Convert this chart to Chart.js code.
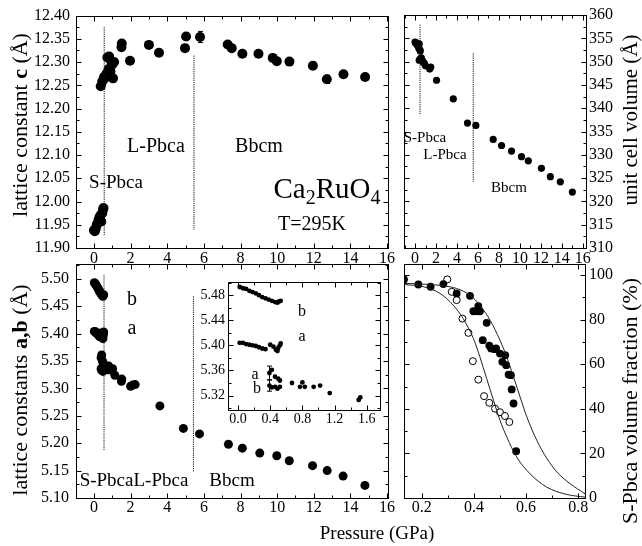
<!DOCTYPE html>
<html>
<head>
<meta charset="utf-8">
<script src="https://cdn.jsdelivr.net/npm/chart.js@4.4.1/dist/chart.umd.min.js"></script>
<style>
  html, body { margin: 0; padding: 0; background: #fff; }
  #wrap { position: relative; width: 642px; height: 546px; }
  #wrap canvas { position: absolute; left: 0; top: 0; }
</style>
</head>
<body>
<div id="wrap">
  <canvas id="cTL" width="642" height="546"></canvas>
  <canvas id="cTR" width="642" height="546"></canvas>
  <canvas id="cBL" width="642" height="546"></canvas>
  <canvas id="cBR" width="642" height="546"></canvas>
  <canvas id="cIn" width="642" height="546"></canvas>
</div>
<script>
const SERIF = '"Liberation Serif", "DejaVu Serif", serif';
const W = 642, H = 546;

// ---- tick labels ----
const pTicks = [0, 2, 4, 6, 8, 10, 12, 14, 16];
const cTicks = [11.90, 11.95, 12.00, 12.05, 12.10, 12.15, 12.20, 12.25, 12.30, 12.35, 12.40];
const vTicks = [310, 315, 320, 325, 330, 335, 340, 345, 350, 355, 360];
const abTicks = [5.10, 5.15, 5.20, 5.25, 5.30, 5.35, 5.40, 5.45, 5.50];
const insetPTicks = [0.0, 0.4, 0.8, 1.2, 1.6];
const insetTicks = [5.32, 5.36, 5.40, 5.44, 5.48];
const fracPTicks = [0.2, 0.4, 0.6, 0.8];
const fracTicks = [0, 20, 40, 60, 80, 100];

// ---- lattice constant c (top left) ----
const pcLow = [0.00, 0.05, 0.10, 0.15, 0.20, 0.25, 0.30, 0.35, 0.40, 0.45, 0.50, 0.52];
const cLow = [11.938, 11.936, 11.942, 11.950, 11.953, 11.960, 11.966, 11.970, 11.957, 11.975, 11.983, 11.986];
const pcHigh = [0.37, 0.45, 0.51, 0.55, 0.60, 0.66, 0.70, 0.73, 0.80, 0.83, 0.90, 0.93, 1.00, 1.04, 1.10, 1.50, 1.52, 1.97, 3.00, 3.55,
                4.97, 5.03, 5.79, 7.30, 7.52, 8.10, 8.98, 9.76, 9.98, 10.67, 11.95, 12.71, 13.62, 14.80];
const cHigh = [12.248, 12.258, 12.262, 12.268, 12.266, 12.272, 12.276, 12.310, 12.285, 12.312, 12.280, 12.303, 12.295, 12.265, 12.300, 12.332, 12.340, 12.303, 12.337, 12.320,
               12.330, 12.355, 12.354, 12.338, 12.330, 12.318, 12.318, 12.309, 12.302, 12.301, 12.292, 12.263, 12.274, 12.268];
const cErr = [0, 0, 0, 0, 0, 0, 0, 0, 0, 0, 0, 0, 0, 0, 0, 0, 0, 0, 0, 0,
              0.007, 0, 0.012, 0.004, 0, 0.005, 0.006, 0, 0, 0, 0.008, 0.009, 0.004, 0.003];
const cGuideP1 = [0.56, 0.56], cGuide1 = [12.375, 11.928];
const cGuideP2 = [5.46, 5.46], cGuide2 = [12.314, 11.939];

// ---- unit cell volume (top right) ----
const pV = [0.00, 0.05, 0.10, 0.20, 0.30, 0.35, 0.40, 0.45, 0.50, 0.40, 0.50, 0.60, 0.70, 0.80, 0.90, 1.00, 1.40, 1.50, 2.05, 3.65,
            5.00, 5.80, 7.45, 8.25, 9.20, 10.15, 10.80, 12.05, 12.90, 13.85, 15.00];
const vol = [354.2, 354.0, 354.1, 353.6, 353.4, 352.9, 353.8, 352.6, 352.3, 350.3, 350.6, 350.8, 350.2, 349.8, 349.6, 349.1, 348.4, 348.8, 346.0, 342.0,
             336.8, 336.3, 333.3, 332.0, 330.8, 329.6, 328.7, 327.1, 325.3, 324.2, 322.0];
const vGuideP1 = [0.48, 0.48], vGuide1 = [357.9, 338.5];
const vGuideP2 = [5.55, 5.55], vGuide2 = [351.8, 324.2];

// ---- lattice constants a, b (bottom left + inset) ----
const pbS = [0.02, 0.06, 0.10, 0.14, 0.18, 0.22, 0.26, 0.30, 0.34, 0.38, 0.42, 0.46, 0.49, 0.51, 0.53];
const bS = [5.493, 5.491, 5.490, 5.487, 5.485, 5.483, 5.480, 5.477, 5.475, 5.473, 5.471, 5.469, 5.468, 5.470, 5.471];
const paS = [0.02, 0.06, 0.10, 0.14, 0.18, 0.22, 0.26, 0.30, 0.34, 0.40, 0.44, 0.47, 0.49, 0.50, 0.52, 0.53];
const aS = [5.404, 5.404, 5.402, 5.401, 5.400, 5.399, 5.397, 5.395, 5.394, 5.401, 5.398, 5.393, 5.391, 5.396, 5.400, 5.403];
const paL = [0.39, 0.42, 0.46, 0.50, 0.52];
const aL = [5.356, 5.361, 5.350, 5.347, 5.344];
const aLErr = [0.011, 0, 0, 0, 0];
const pbL = [0.39, 0.42, 0.46, 0.49, 0.52];
const bL = [5.336, 5.333, 5.334, 5.331, 5.334];
const bLErr = [0.009, 0, 0, 0, 0];
const pM = [0.67, 0.77, 0.80, 0.83, 0.94, 1.02, 1.14, 1.50, 1.52, 2.00, 2.12, 2.25, 3.60, 4.88, 5.76, 7.34, 8.10, 9.05, 9.98, 10.66,
            11.93, 12.73, 13.60, 14.79];
const abM = [5.340, 5.334, 5.341, 5.334, 5.334, 5.336, 5.324, 5.313, 5.317, 5.304, 5.306, 5.307, 5.268, 5.227, 5.217, 5.198, 5.191, 5.182, 5.177, 5.168,
             5.159, 5.150, 5.140, 5.123];
const abGuideP1 = [0.55, 0.55], abGuide1 = [5.507, 5.187];
const abGuideP2 = [5.43, 5.43], abGuide2 = [5.468, 5.148];

// ---- S-Pbca volume fraction (bottom right) ----
const pFill = [0.132, 0.187, 0.234, 0.283, 0.334, 0.385, 0.398, 0.413, 0.417, 0.423, 0.449, 0.434, 0.459, 0.466, 0.479, 0.485, 0.500, 0.509, 0.520, 0.524,
               0.533, 0.542, 0.545, 0.552, 0.562];
const fracFill = [98.1, 95.8, 94.8, 96.0, 91.8, 90.7, 83.8, 83.8, 86.1, 83.8, 78.6, 70.8, 68.4, 67.1, 66.8, 67.1, 64.8, 61.1, 64.1, 59.6,
                  55.4, 55.1, 48.7, 42.4, 21.0];
const pOpen = [0.298, 0.315, 0.334, 0.356, 0.379, 0.396, 0.417, 0.439, 0.459, 0.481, 0.500, 0.519, 0.536];
const fracOpen = [98.1, 92.5, 88.8, 80.5, 74.1, 61.4, 53.1, 45.7, 42.7, 40.1, 38.5, 36.8, 34.1];
const fitFillP = [0.132, 0.232, 0.283, 0.334, 0.385, 0.423, 0.462, 0.500, 0.526, 0.552, 0.577, 0.603, 0.641, 0.680, 0.718, 0.769, 0.826];
const fitFill = [96.3, 95.8, 95.2, 94.0, 91.0, 86.5, 79.8, 70.8, 63.3, 54.3, 45.4, 36.4, 25.9, 17.7, 11.7, 6.4, 1.9];
const fitOpenP = [0.132, 0.206, 0.270, 0.321, 0.359, 0.398, 0.423, 0.449, 0.475, 0.500, 0.526, 0.564, 0.615, 0.679, 0.756, 0.826];
const fitOpen = [95.8, 94.8, 91.8, 86.5, 80.5, 71.6, 63.3, 53.6, 43.9, 34.9, 27.4, 18.4, 10.9, 4.9, 1.6, 0.4];

// ---- dataset helpers ----
function pts(xs, ys) { return xs.map((x, i) => ({ x: x, y: ys[i] })); }

function dots(xs, ys, r, errs) {
    return {
        data: pts(xs, ys), errors: errs,
        pointRadius: r, pointHoverRadius: r, pointBorderWidth: 0,
        pointBackgroundColor: '#000', pointBorderColor: '#000', showLine: false
    };
}

function rings(xs, ys, r) {
    return {
        data: pts(xs, ys),
        pointRadius: r, pointHoverRadius: r, pointBorderWidth: 1,
        pointBackgroundColor: '#fff', pointBorderColor: '#000', showLine: false
    };
}

function guide(xs, ys) {
    return {
        data: pts(xs, ys), showLine: true, pointRadius: 0,
        borderColor: '#111', borderWidth: 1, borderDash: [1.2, 1]
    };
}

function curve(xs, ys) {
    return {
        data: pts(xs, ys), showLine: true, pointRadius: 0,
        borderColor: '#222', borderWidth: 1, cubicInterpolationMode: 'monotone'
    };
}

// rich text: parts may be bold or subscript
function drawRich(ctx, item) {
    const size = item.size;
    const parts = typeof item.text === 'string' ? [{ s: item.text }] : item.text;
    const fontOf = p => (p.b ? 'bold ' : '') + (p.sub ? Math.round(size * 0.68) : size) + 'px ' + SERIF;
    let total = 0;
    parts.forEach(p => { ctx.font = fontOf(p); p.w = ctx.measureText(p.s).width; total += p.w; });
    ctx.save();
    ctx.translate(item.x, item.y);
    if (item.rot) ctx.rotate(item.rot * Math.PI / 180);
    ctx.fillStyle = '#000';
    ctx.textAlign = 'left';
    ctx.textBaseline = 'alphabetic';
    let x = -total / 2;
    parts.forEach(p => {
        ctx.font = fontOf(p);
        ctx.fillText(p.s, x, size * 0.34 + (p.sub ? size * 0.22 : 0));
        x += p.w;
    });
    ctx.restore();
}

// frame, inward ticks on all sides, annotations
const panelDeco = {
    id: 'panelDeco',
    beforeDraw(chart, args, o) {
        if (!o.fill) return;
        const a = chart.chartArea;
        chart.ctx.fillStyle = '#fff';
        chart.ctx.fillRect(a.left, a.top, a.right - a.left, a.bottom - a.top);
    },
    afterDraw(chart, args, o) {
        const ctx = chart.ctx, a = chart.chartArea;
        const xs = chart.scales.x, ys = chart.scales.y;
        ctx.save();
        ctx.strokeStyle = '#000';
        ctx.lineWidth = 1;
        const L = Math.round(a.left) + 0.5, T = Math.round(a.top) + 0.5;
        const R = Math.round(a.right) + 0.5, B = Math.round(a.bottom) + 0.5;
        ctx.strokeRect(L, T, R - L, B - T);

        const mark = (scale, vals, len, horiz) => {
            ctx.beginPath();
            vals.forEach(v => {
                const p = Math.round(scale.getPixelForValue(v)) + 0.5;
                if (horiz) {
                    ctx.moveTo(p, B); ctx.lineTo(p, B - len);
                    ctx.moveTo(p, T); ctx.lineTo(p, T + len);
                } else {
                    ctx.moveTo(L, p); ctx.lineTo(L + len, p);
                    ctx.moveTo(R, p); ctx.lineTo(R - len, p);
                }
            });
            ctx.stroke();
        };
        const steps = (scale, step) => {
            const out = [];
            for (let k = Math.ceil(scale.min / step - 1e-6); k * step <= scale.max + 1e-9; k++) out.push(k * step);
            return out;
        };
        mark(xs, steps(xs, o.xMinor), 3, true);
        mark(ys, steps(ys, o.yMinor), 3, false);
        mark(xs, xs.ticks.map(t => t.value), 5, true);
        mark(ys, ys.ticks.map(t => t.value), 5, false);
        ctx.restore();

        (o.texts || []).forEach(t => drawRich(ctx, t));
    }
};

// vertical error bars from dataset.errors
const errorBars = {
    id: 'errorBars',
    afterDatasetsDraw(chart) {
        const ctx = chart.ctx, ys = chart.scales.y, a = chart.chartArea;
        ctx.save();
        ctx.beginPath();
        ctx.rect(a.left, a.top, a.right - a.left, a.bottom - a.top);
        ctx.clip();
        ctx.strokeStyle = '#000';
        ctx.lineWidth = 1;
        chart.data.datasets.forEach((ds, di) => {
            if (!ds.errors) return;
            const meta = chart.getDatasetMeta(di);
            ds.errors.forEach((e, i) => {
                if (!e) return;
                const x = Math.round(meta.data[i].x) + 0.5;
                const v = ds.data[i].y;
                const y1 = ys.getPixelForValue(v + e), y2 = ys.getPixelForValue(v - e);
                ctx.beginPath();
                ctx.moveTo(x, y1); ctx.lineTo(x, y2);
                ctx.moveTo(x - 2.5, y1); ctx.lineTo(x + 2.5, y1);
                ctx.moveTo(x - 2.5, y2); ctx.lineTo(x + 2.5, y2);
                ctx.stroke();
            });
        });
        ctx.restore();
    }
};

// axis box size is fixed so the plot area lands exactly on rect
function axis(o, pos, size) {
    const horiz = pos === 'bottom';
    return {
        type: 'linear', position: pos, min: o.min, max: o.max,
        grid: { display: false, drawTicks: false },
        border: { display: false },
        afterFit: s => { if (horiz) s.height = size; else s.width = size; },
        afterBuildTicks: s => { s.ticks = o.ticks.map(v => ({ value: v })); },
        ticks: {
            autoSkip: false, maxRotation: 0, minRotation: 0, padding: o.pad,
            color: '#000', font: { family: SERIF, size: o.font },
            callback: v => Number(v).toFixed(o.dec)
        }
    };
}

function panel(id, rect, xOpt, yOpt, datasets, deco) {
    const xBox = 22, yBox = 48;
    const side = yOpt.side || 'left';
    const pad = {
        left: rect[0] - (side === 'left' ? yBox : 0),
        right: W - rect[2] - (side === 'right' ? yBox : 0),
        top: rect[1],
        bottom: H - rect[3] - xBox
    };
    return new Chart(document.getElementById(id), {
        type: 'scatter',
        data: { datasets: datasets },
        options: {
            responsive: false, animation: false, events: [],
            layout: { padding: pad },
            plugins: { legend: { display: false }, tooltip: { enabled: false }, panelDeco: deco },
            scales: { x: axis(xOpt, 'bottom', xBox), y: axis(yOpt, side, yBox) }
        },
        plugins: [panelDeco, errorBars]
    });
}

// top left: lattice constant c
panel('cTL', [76, 15, 388, 248],
    { min: -0.98, max: 16.05, ticks: pTicks, dec: 0, pad: 1, font: 16 },
    { min: 11.90, max: 12.40, ticks: cTicks, dec: 2, pad: 6, font: 16 },
    [guide(cGuideP1, cGuide1), guide(cGuideP2, cGuide2),
     dots(pcLow, cLow, 5), dots(pcHigh, cHigh, 5, cErr)],
    { xMinor: 1, yMinor: 0.025, texts: [
        { text: 'S-Pbca', x: 116, y: 182, size: 19 },
        { text: 'L-Pbca', x: 156, y: 145, size: 20 },
        { text: 'Bbcm', x: 259, y: 145, size: 20 },
        { text: [{ s: 'Ca' }, { s: '2', sub: true }, { s: 'RuO' }, { s: '4', sub: true }], x: 327, y: 188, size: 29 },
        { text: 'T=295K', x: 312, y: 223, size: 20 },
        { text: [{ s: 'lattice constant ' }, { s: 'c', b: true }, { s: ' (Å)' }], x: 20, y: 125, size: 22, rot: -90 }
    ] });

// top right: unit cell volume
panel('cTR', [404, 15, 586, 248],
    { min: -1.05, max: 16.3, ticks: pTicks, dec: 0, pad: 1, font: 16 },
    { min: 310, max: 360, ticks: vTicks, dec: 0, pad: 3, font: 16, side: 'right' },
    [guide(vGuideP1, vGuide1), guide(vGuideP2, vGuide2), dots(pV, vol, 3.6)],
    { xMinor: 1, yMinor: 2.5, texts: [
        { text: 'S-Pbca', x: 425, y: 137, size: 15 },
        { text: 'L-Pbca', x: 445, y: 154, size: 15 },
        { text: 'Bbcm', x: 509, y: 187, size: 15 },
        { text: 'unit cell volume (Å)', x: 630, y: 120, size: 21, rot: -90 }
    ] });

// bottom left: lattice constants a, b
panel('cBL', [76, 264, 388, 498],
    { min: -0.98, max: 16.05, ticks: pTicks, dec: 0, pad: 0, font: 16 },
    { min: 5.10, max: 5.527, ticks: abTicks, dec: 2, pad: 7, font: 16 },
    [guide(abGuideP1, abGuide1), guide(abGuideP2, abGuide2),
     dots(pbS, bS, 4.5), dots(paS, aS, 4.5), dots(paL, aL, 4.5), dots(pbL, bL, 4.5), dots(pM, abM, 4.5)],
    { xMinor: 1, yMinor: 0.025, texts: [
        { text: 'b', x: 132, y: 298, size: 20 },
        { text: 'a', x: 132, y: 327, size: 20 },
        { text: 'S-PbcaL-Pbca', x: 134, y: 480, size: 19 },
        { text: 'Bbcm', x: 232, y: 480, size: 19 },
        { text: [{ s: 'lattice constants ' }, { s: 'a,b', b: true }, { s: ' (Å)' }], x: 20, y: 390, size: 22, rot: -90 },
        { text: 'Pressure (GPa)', x: 377, y: 533, size: 19 }
    ] });

// bottom right: S-Pbca volume fraction
panel('cBR', [404, 264, 585, 498],
    { min: 0.132, max: 0.826, ticks: fracPTicks, dec: 1, pad: 0, font: 16 },
    { min: 0, max: 105, ticks: fracTicks, dec: 0, pad: 4, font: 16, side: 'right' },
    [curve(fitFillP, fitFill), curve(fitOpenP, fitOpen), dots(pFill, fracFill, 3.9), rings(pOpen, fracOpen, 3.5)],
    { xMinor: 0.1, yMinor: 10, texts: [
        { text: 'S-Pbca volume fraction (%)', x: 630, y: 401, size: 22, rot: -90 }
    ] });

// inset: low pressure detail of a, b
panel('cIn', [228, 282, 380, 410],
    { min: -0.125, max: 1.765, ticks: insetPTicks, dec: 1, pad: 1, font: 14 },
    { min: 5.297, max: 5.501, ticks: insetTicks, dec: 2, pad: 3, font: 14 },
    [dots(pbS, bS, 2.4), dots(paS, aS, 2.4), dots(paL, aL, 2.4, aLErr), dots(pbL, bL, 2.4, bLErr), dots(pM, abM, 2.4)],
    { fill: true, xMinor: 0.2, yMinor: 0.02, texts: [
        { text: 'b', x: 302, y: 311, size: 16 },
        { text: 'a', x: 302, y: 336, size: 16 },
        { text: 'a', x: 255, y: 374, size: 16 },
        { text: 'b', x: 257, y: 388, size: 16 }
    ] });
</script>
</body>
</html>
